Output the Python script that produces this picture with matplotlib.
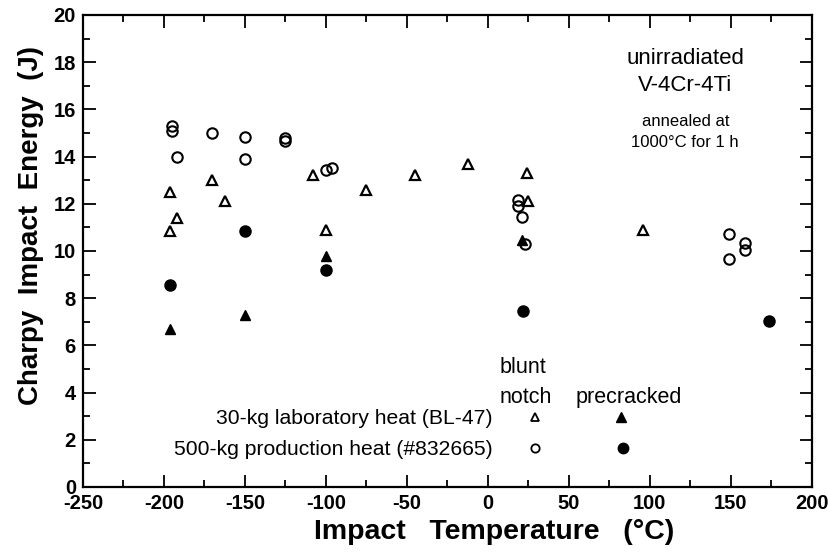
import matplotlib
matplotlib.use('Agg')
import matplotlib.pyplot as plt
from matplotlib.ticker import MultipleLocator

plt.rcParams.update({
    "font.family": ["Liberation Sans", "DejaVu Sans"],
    "xtick.direction": "in",
    "ytick.direction": "in",
    "axes.unicode_minus": False,
})

# 30-kg laboratory heat (BL-47)
lab_blunt_t = [-196, -196, -192, -170, -162, -108, -100, -75, -45, -12, 24, 25, 96]
lab_blunt_e = [12.5, 10.85, 11.4, 13.0, 12.1, 13.2, 10.9, 12.6, 13.2, 13.7, 13.3, 12.1, 10.9]
lab_pre_t = [-196, -150, -100, 21]
lab_pre_e = [6.7, 7.3, 9.8, 10.45]

# 500-kg production heat (#832665)
prod_blunt_t = [-195, -195, -192, -170, -150, -150, -125, -125, -100, -96,
                19, 19, 21, 23, 149, 149, 159, 159]
prod_blunt_e = [15.3, 15.1, 14.0, 15.0, 14.85, 13.9, 14.8, 14.65, 13.45, 13.5,
                12.15, 11.9, 11.45, 10.3, 10.7, 9.65, 10.35, 10.05]
prod_pre_t = [-196, -150, -100, 22, 174]
prod_pre_e = [8.55, 10.85, 9.2, 7.45, 7.05]

fig = plt.figure(figsize=(8.29, 5.54), dpi=100)
ax = fig.add_axes([0.100, 0.121, 0.879, 0.852])

ax.plot(lab_blunt_t, lab_blunt_e, ls='none', marker='^', ms=7.5, mfc='white', mec='black', mew=1.6)
ax.plot(lab_pre_t, lab_pre_e, ls='none', marker='^', ms=7.5, mfc='black', mec='black')
ax.plot(prod_blunt_t, prod_blunt_e, ls='none', marker='o', ms=7.5, mfc='none', mec='black', mew=1.5)
ax.plot(prod_pre_t, prod_pre_e, ls='none', marker='o', ms=8, mfc='black', mec='black')

# hand-made legend block
ax.text(7, 5.05, 'blunt', fontsize=15.5, ha='left', va='center')
ax.text(7, 3.8, 'notch', fontsize=15.5, ha='left', va='center')
ax.text(54, 3.8, 'precracked', fontsize=15.5, ha='left', va='center')
ax.text(3, 2.9, '30-kg laboratory heat (BL-47)', fontsize=15.2, ha='right', va='center')
ax.text(3, 1.6, '500-kg production heat (#832665)', fontsize=15.2, ha='right', va='center')
ax.plot([29], [2.95], ls='none', marker='^', ms=6, mfc='white', mec='black', mew=1.3)
ax.plot([82], [2.95], ls='none', marker='^', ms=7, mfc='black', mec='black')
ax.plot([29], [1.65], ls='none', marker='o', ms=6, mfc='none', mec='black', mew=1.3)
ax.plot([83.5], [1.65], ls='none', marker='o', ms=7.5, mfc='black', mec='black')

# annotation
ax.text(122, 18.15, 'unirradiated', fontsize=16, ha='center', va='center')
ax.text(122, 17.0, 'V-4Cr-4Ti', fontsize=16, ha='center', va='center')
ax.text(122, 15.5, 'annealed at', fontsize=12, ha='center', va='center')
ax.text(122, 14.6, '1000°C for 1 h', fontsize=12, ha='center', va='center')

ax.set_xlim(-250, 200)
ax.set_ylim(0, 20)
ax.xaxis.set_major_locator(MultipleLocator(50))
ax.xaxis.set_minor_locator(MultipleLocator(25))
ax.yaxis.set_major_locator(MultipleLocator(2))
ax.yaxis.set_minor_locator(MultipleLocator(1))
ax.tick_params(which='both', top=True, right=True, width=1.3)
ax.tick_params(which='major', length=9, labelsize=14.5, pad=5)
ax.tick_params(which='minor', length=5)
for lab in ax.get_xticklabels() + ax.get_yticklabels():
    lab.set_fontweight('bold')
for sp in ax.spines.values():
    sp.set_linewidth(1.6)

ax.set_xlabel('Impact   Temperature   (°C)', fontsize=20.5, fontweight='bold')
ax.set_ylabel('Charpy  Impact  Energy  (J)', fontsize=20, fontweight='bold')
ax.xaxis.set_label_coords(0.565, -0.068, transform=ax.transAxes)
ax.yaxis.set_label_coords(-0.054, 0.555, transform=ax.transAxes)

fig.savefig('out.png', dpi=100)
